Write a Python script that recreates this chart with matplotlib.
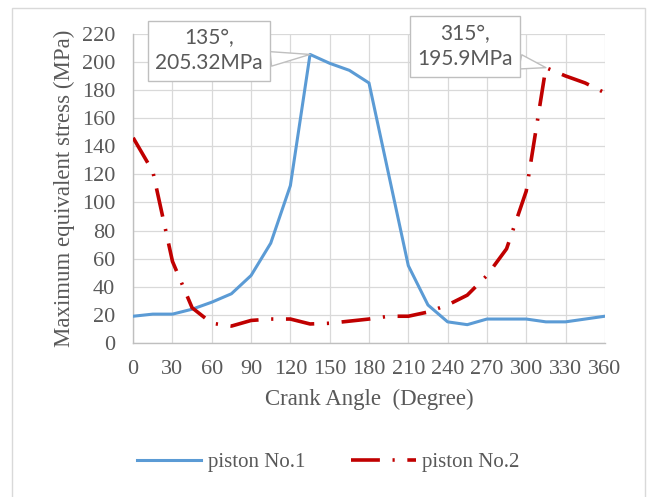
import numpy as np
import matplotlib
matplotlib.use('Agg')
from matplotlib import pyplot as plt
from matplotlib.patches import Rectangle

# crank angle (deg) and max equivalent stress (MPa)
angles = [0, 15, 30, 45, 60, 75, 90, 105, 120, 135, 150, 165, 180,
          195, 210, 225, 240, 255, 270, 285, 300, 315, 330, 345, 360]
piston1 = [19, 20.5, 20.5, 24, 29, 35, 48, 71, 112, 205.32, 199, 194, 185,
           120, 55, 27, 15, 13, 17, 17, 17, 15, 15, 17, 19]
piston2 = [146, 122, 58, 25, 14, 12, 16, 17, 17, 13.5, 14, 15.5, 17,
           19, 19, 22, 27, 34, 48, 67, 108, 195.9, 190, 185, 178]
labels = ['piston No.1', 'piston No.2']
xticks = list(range(0, 361, 30))
yticks = list(range(0, 221, 20))

serif = ['Liberation Serif', 'DejaVu Serif']
plt.rcParams['font.family'] = serif

fig = plt.figure(figsize=(6.56, 4.97), dpi=100)
fig.patch.set_facecolor('white')
# outer chart border
fig.patches.append(Rectangle((12 / 656, -0.05), (645 - 12) / 656, 1 - 8 / 497 + 0.05,
                             transform=fig.transFigure, fill=False,
                             ec='#d9d9d9', lw=1))

ax = fig.add_axes([0.203, 0.310, 0.719, 0.622])
ax.plot(angles, piston1, color='#5b9bd5', lw=2.2, label=labels[0], zorder=3)
l2, = ax.plot(angles, piston2, color='#c00000', lw=2.6, label=labels[1], zorder=3)
l2.set_dashes([8, 3.5, 0.6, 3.5])

ax.set_xlim(0, 360)
ax.set_ylim(0, 220)
ax.set_xticks(xticks)
ax.set_yticks(yticks)
ax.grid(True, color='#d9d9d9', lw=0.9)
ax.set_axisbelow(True)
for s in ['top', 'right']:
    ax.spines[s].set_visible(False)
for s in ['left', 'bottom']:
    ax.spines[s].set_color('#bfbfbf')
    ax.spines[s].set_linewidth(1)
ax.tick_params(axis='both', length=0, labelsize=16, colors='#595959')
ax.tick_params(axis='y', pad=13)
ax.tick_params(axis='x', pad=12)

ax.set_xlabel('Crank Angle  (Degree)', fontsize=16.5, color='#595959', labelpad=7)
ax.set_ylabel('Maximum equivalent stress (MPa)', fontsize=16.5, color='#595959', labelpad=5)

box = dict(boxstyle='square,pad=0.35', fc='white', ec='#bfbfbf', lw=1)
ax.annotate('135°,\n205.32MPa', xy=(135, 205.32), xytext=(58, 208),
            ha='center', va='center', fontsize=15, color='#595959', linespacing=1.35,
            family=['Lato', 'DejaVu Sans'], bbox=box,
            arrowprops=dict(arrowstyle='wedge,tail_width=0.7', fc='white', ec='#bfbfbf',
                            lw=1, shrinkA=0, shrinkB=0, relpos=(1.0, 0.3)),
            annotation_clip=False, zorder=5)
ax.annotate('315°,\n195.9MPa', xy=(315, 195.9), xytext=(253, 211),
            ha='center', va='center', fontsize=15, color='#595959', linespacing=1.35,
            family=['Lato', 'DejaVu Sans'], bbox=box,
            arrowprops=dict(arrowstyle='wedge,tail_width=0.7', fc='white', ec='#bfbfbf',
                            lw=1, shrinkA=0, shrinkB=0, relpos=(1.0, 0.2)),
            annotation_clip=False, zorder=5)

leg = fig.legend(loc='center', bbox_to_anchor=(0.5, 0.07), ncol=2, frameon=False,
                 fontsize=15, handlelength=3.1, handletextpad=0.3, columnspacing=2.2)
for t in leg.get_texts():
    t.set_color('#595959')

fig.savefig('out.png', dpi=100)
